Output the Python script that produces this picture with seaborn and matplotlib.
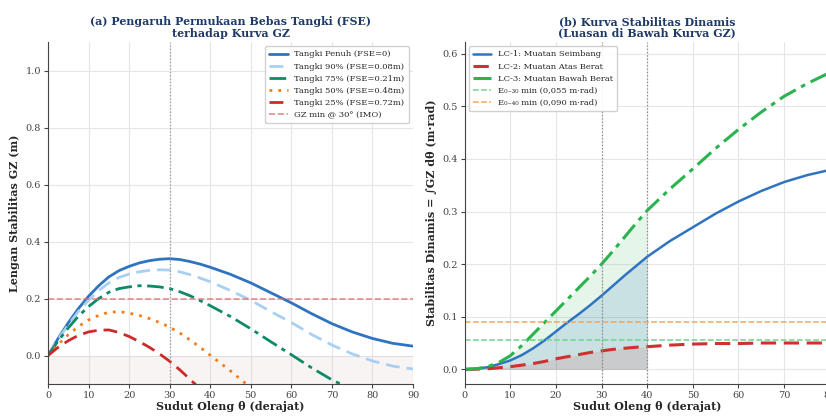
import numpy as np
import pandas as pd
import seaborn as sns
import matplotlib.pyplot as plt

# sudut oleng (derajat)
sudut = [0, 2.5, 5, 7.5, 10, 12.5, 15, 17.5, 20, 22.5, 25, 27.5, 30, 32.5, 35, 37.5, 40,
         45, 50, 55, 60, 65, 70, 75, 80, 85, 90]

# (a) kurva GZ untuk tiap kondisi tangki (m)
gz_penuh = [0, 0.060, 0.115, 0.165, 0.208, 0.245, 0.276, 0.298, 0.313, 0.325, 0.333, 0.338,
            0.340, 0.337, 0.330, 0.321, 0.310, 0.285, 0.255, 0.220, 0.185, 0.147, 0.112,
            0.083, 0.060, 0.043, 0.033]
gz_90 = [0, 0.057, 0.108, 0.155, 0.194, 0.228, 0.255, 0.274, 0.286, 0.294, 0.299, 0.301,
         0.300, 0.294, 0.284, 0.272, 0.259, 0.228, 0.194, 0.154, 0.116, 0.074, 0.037,
         0.006, -0.019, -0.037, -0.047]
gz_75 = [0, 0.051, 0.097, 0.138, 0.172, 0.200, 0.222, 0.235, 0.241, 0.245, 0.244, 0.241,
         0.235, 0.224, 0.210, 0.193, 0.175, 0.137, 0.094, 0.048, 0.003, -0.043, -0.085,
         -0.120, -0.147, -0.166, -0.177]
gz_50 = [0, 0.039, 0.073, 0.102, 0.125, 0.141, 0.152, 0.154, 0.149, 0.141, 0.130, 0.116,
         0.100, 0.079, 0.055, 0.029, 0.001, -0.054, -0.113, -0.173, -0.231, -0.288, -0.339,
         -0.381, -0.413, -0.435, -0.447]
gz_25 = [0, 0.029, 0.052, 0.071, 0.083, 0.089, 0.090, 0.081, 0.067, 0.049, 0.029, 0.006,
         -0.020, -0.050, -0.083, -0.117, -0.153, -0.224, -0.297, -0.370, -0.439, -0.506,
         -0.565, -0.612, -0.649, -0.674, -0.687]
label_tangki = ['Tangki Penuh (FSE=0)', 'Tangki 90% (FSE=0.08m)', 'Tangki 75% (FSE=0.21m)',
                'Tangki 50% (FSE=0.48m)', 'Tangki 25% (FSE=0.72m)']
gz_min_imo = 0.20

# (b) stabilitas dinamis (m.rad)
lc1 = [0, 0.001, 0.004, 0.010, 0.017, 0.027, 0.040, 0.055, 0.072, 0.089, 0.105, 0.122,
       0.140, 0.159, 0.178, 0.196, 0.214, 0.244, 0.270, 0.296, 0.319, 0.339, 0.356,
       0.369, 0.379, 0.386, 0.390]
lc2 = [0, 0.0003, 0.001, 0.003, 0.005, 0.008, 0.011, 0.015, 0.020, 0.024, 0.028, 0.032,
       0.035, 0.038, 0.040, 0.042, 0.043, 0.046, 0.048, 0.049, 0.049, 0.050, 0.050,
       0.050, 0.050, 0.050, 0.050]
lc3 = [0, 0.001, 0.005, 0.013, 0.026, 0.045, 0.067, 0.089, 0.111, 0.133, 0.155, 0.177,
       0.200, 0.225, 0.251, 0.277, 0.302, 0.343, 0.381, 0.420, 0.456, 0.489, 0.519,
       0.543, 0.564, 0.579, 0.588]
label_lc = ['LC-1: Muatan Seimbang', 'LC-2: Muatan Atas Berat', 'LC-3: Muatan Bawah Berat']
e030_min = 0.055
e040_min = 0.090

sns.set_style('ticks', {'axes.grid': True, 'grid.color': '#e6e6e6'})
plt.rcParams['font.family'] = ['DejaVu Serif', 'DejaVu Sans']
plt.rcParams['axes.edgecolor'] = '#444444'
plt.rcParams['xtick.color'] = '#444444'
plt.rcParams['ytick.color'] = '#444444'

judul_warna = '#1f3a68'
fig = plt.figure(figsize=(8.26, 4.17), dpi=100)
ax1 = fig.add_axes([0.0581, 0.079, 0.4419, 0.820])
ax2 = fig.add_axes([0.5626, 0.079, 0.4419, 0.820])  # sisi kanan sedikit terpotong seperti aslinya

# ---- panel (a)
df_gz = pd.DataFrame({'sudut': sudut, label_tangki[0]: gz_penuh, label_tangki[1]: gz_90,
                      label_tangki[2]: gz_75, label_tangki[3]: gz_50, label_tangki[4]: gz_25})
gaya = [('#2f74c0', '-', 2.0), ('#a9d0f0', (0, (5, 2.5)), 2.0), ('#0f8a68', (0, (6, 2, 1.5, 2)), 2.0),
        ('#f07d1a', (0, (1, 2.2)), 2.0), ('#cc2b2b', (0, (5, 2.5)), 2.0)]
for lbl, (c, ls, lw) in zip(label_tangki, gaya):
    sns.lineplot(data=df_gz, x='sudut', y=lbl, ax=ax1, color=c, linestyle=ls, linewidth=lw, label=lbl)
ax1.axhline(gz_min_imo, color='#e07070', linestyle='--', linewidth=1.2, alpha=0.8,
            label='GZ min @ 30° (IMO)')
ax1.axvline(30, color='#999999', linestyle=':', linewidth=0.9)
ax1.axhspan(-0.1, 0, color='#c89a9a', alpha=0.1, lw=0)
ax1.set_xlim(0, 90)
ax1.set_ylim(-0.1, 1.1)
ax1.set_xticks(range(0, 91, 10))
ax1.set_yticks(np.arange(0, 1.01, 0.2))
ax1.set_xlabel('Sudut Oleng θ (derajat)', fontsize=8, fontweight='bold', labelpad=1)
ax1.set_ylabel('Lengan Stabilitas GZ (m)', fontsize=8, fontweight='bold')
ax1.set_title('(a) Pengaruh Permukaan Bebas Tangki (FSE)\nterhadap Kurva GZ', fontsize=7.9,
              fontweight='bold', color=judul_warna, linespacing=1.05, pad=4)
ax1.tick_params(labelsize=7, length=3, pad=2)
ax1.legend(loc='upper right', fontsize=6, framealpha=0.9, handlelength=2.2, borderpad=0.5)
sns.despine(ax=ax1)

# ---- panel (b)
df_e = pd.DataFrame({'sudut': sudut, label_lc[0]: lc1, label_lc[1]: lc2, label_lc[2]: lc3})
gaya_lc = [('#2f74c0', '-', 1.8), ('#d03030', (0, (5, 2.5)), 2.2), ('#2bb34f', (0, (6, 2, 1.5, 2)), 2.2)]
for lbl, (c, ls, lw) in zip(label_lc, gaya_lc):
    sns.lineplot(data=df_e, x='sudut', y=lbl, ax=ax2, color=c, linestyle=ls, linewidth=lw, label=lbl)
sub = df_e[df_e['sudut'] <= 40]
ax2.fill_between(sub['sudut'], 0, sub[label_lc[2]], color='#2bb34f', alpha=0.12, lw=0)
ax2.fill_between(sub['sudut'], 0, sub[label_lc[0]], color='#2f74c0', alpha=0.15, lw=0)
ax2.fill_between(sub['sudut'], 0, sub[label_lc[1]], color='#d03030', alpha=0.12, lw=0)
ax2.axhline(e030_min, color='#6fd38e', linestyle='--', linewidth=1.1, label='E₀₋₃₀ min (0,055 m·rad)')
ax2.axhline(e040_min, color='#f5a55a', linestyle='--', linewidth=1.1, label='E₀₋₄₀ min (0,090 m·rad)')
ax2.axvline(30, color='#888888', linestyle=':', linewidth=0.9)
ax2.axvline(40, color='#888888', linestyle=':', linewidth=0.9)
ax2.set_xlim(0, 80)
ax2.set_ylim(-0.028, 0.622)
ax2.set_xticks(range(0, 81, 10))
ax2.set_yticks(np.arange(0, 0.61, 0.1))
ax2.set_xlabel('Sudut Oleng θ (derajat)', fontsize=8, fontweight='bold', labelpad=1)
ax2.set_ylabel('Stabilitas Dinamis = ∫GZ dθ (m·rad)', fontsize=8, fontweight='bold')
ax2.set_title('(b) Kurva Stabilitas Dinamis\n(Luasan di Bawah Kurva GZ)', fontsize=7.9,
              fontweight='bold', color=judul_warna, linespacing=1.05, pad=4)
ax2.tick_params(labelsize=7, length=3, pad=2)
ax2.legend(loc='upper left', fontsize=6, framealpha=0.9, handlelength=2.2, borderpad=0.5)
sns.despine(ax=ax2)

fig.savefig('out.png', dpi=100)
